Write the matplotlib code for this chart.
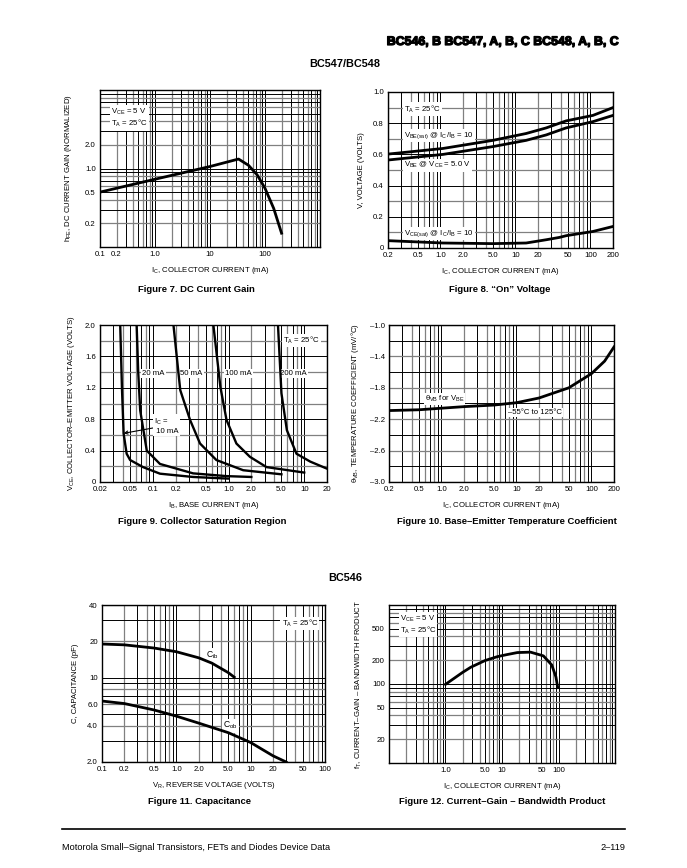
import numpy as np
import matplotlib.pyplot as plt
import matplotlib.patheffects as pe

plt.rcParams['font.family'] = ['Liberation Sans', 'DejaVu Sans']
plt.rcParams['mathtext.fontset'] = 'custom'
plt.rcParams['mathtext.rm'] = 'Liberation Sans'
plt.rcParams['mathtext.it'] = 'Liberation Sans'
plt.rcParams['mathtext.bf'] = 'Liberation Sans:bold'

W, H = 687, 868

# Figure 7 - DC current gain
ic7 = [0.1, 1.0, 10, 33, 50, 72, 100, 144, 200]
hfe7 = [0.5, 0.73, 1.06, 1.32, 1.1, 0.83, 0.56, 0.31, 0.15]

# Figure 8 - "On" voltage
ic8 = [0.2, 1.08, 5.0, 13.9, 25.8, 38.7, 47.6, 108, 200]
vbe_sat8 = [0.602, 0.638, 0.69, 0.734, 0.77, 0.80, 0.815, 0.85, 0.90]
vbe8 = [0.564, 0.60, 0.65, 0.69, 0.725, 0.755, 0.77, 0.81, 0.85]
vce_sat8 = [0.047, 0.032, 0.028, 0.032, 0.053, 0.068, 0.079, 0.106, 0.138]

# Figure 9 - collector saturation region
ib_10 = [0.037, 0.039, 0.041, 0.045, 0.05, 0.074, 0.124, 0.34, 1.0]
vce_10 = [2.0, 1.2, 0.62, 0.36, 0.28, 0.19, 0.106, 0.064, 0.043]
ib_20 = [0.061, 0.064, 0.068, 0.083, 0.124, 0.34, 0.94, 2.0]
vce_20 = [2.0, 1.4, 0.91, 0.40, 0.23, 0.11, 0.075, 0.064]
ib_50 = [0.187, 0.23, 0.31, 0.42, 0.69, 1.56, 5.0]
vce_50 = [2.0, 1.17, 0.79, 0.49, 0.28, 0.15, 0.098]
ib_100 = [0.63, 0.78, 0.94, 1.27, 1.92, 3.17, 10.0]
vce_100 = [2.0, 1.21, 0.79, 0.49, 0.32, 0.19, 0.12]
ib_200 = [4.5, 5.0, 5.9, 7.9, 12.0, 20.0]
vce_200 = [2.0, 1.13, 0.66, 0.36, 0.26, 0.17]

# Figure 10 - base-emitter temperature coefficient
ic10 = [0.2, 0.5, 1.0, 2.0, 5.0, 10, 20, 50, 100, 150, 200]
tc10 = [-2.09, -2.08, -2.06, -2.04, -2.02, -1.99, -1.93, -1.80, -1.62, -1.46, -1.28]

# Figure 11 - capacitance
vr_ib = [0.1, 0.2, 0.5, 1.0, 2.0, 3.0, 5.0, 6.0]
cib = [19.0, 18.7, 17.6, 16.4, 14.6, 13.2, 11.0, 10.1]
vr_ob = [0.1, 0.2, 0.5, 1.0, 2.0, 5.0, 10, 20, 30]
cob = [6.4, 6.1, 5.4, 4.8, 4.2, 3.5, 2.9, 2.25, 2.0]

# Figure 12 - current-gain bandwidth product
ic12 = [1.0, 2.0, 2.8, 5.0, 8.3, 12, 18.7, 32, 54, 76, 90, 97]
ft12 = [99, 140, 163, 198, 222, 235, 250, 253, 227, 174, 123, 90]

ic_ticks = [0.2, 0.5, 1.0, 2.0, 5.0, 10, 20, 50, 100, 200]
ic_labels = ['0.2', '0.5', '1.0', '2.0', '5.0', '10', '20', '50', '100', '200']

FS = 5.6
LW = 2.0
WB = dict(fc='white', ec='none', pad=0.8)


def rect(l, t, r, b):
    return [l / W, 1 - b / H, (r - l) / W, (b - t) / H]


def log_lines(lo, hi):
    out = []
    for n in range(int(np.floor(np.log10(lo))) - 1, int(np.ceil(np.log10(hi))) + 1):
        for k in range(1, 10):
            v = k * 10.0 ** n
            if lo * 0.999 <= v <= hi * 1.001:
                out.append((v, k == 1 or k in (3, 5, 7, 9)))
    return out


def lin_lines(lo, hi, step, major):
    out = []
    for v in np.arange(lo, hi + step / 2, step):
        out.append((v, abs(v / major - round(v / major)) < 1e-6))
    return out


def setup(ax, xlim, ylim, xlog, ylog, xt, xl, yt, yl, ystep=None, ymajor=None):
    if xlog:
        ax.set_xscale('log')
    if ylog:
        ax.set_yscale('log')
    ax.set_xlim(xlim)
    ax.set_ylim(ylim)
    xs = log_lines(*xlim) if xlog else lin_lines(xlim[0], xlim[1], 0.1, 0.2)
    ys = log_lines(*ylim) if ylog else lin_lines(ylim[0], ylim[1], ystep, ymajor)
    for v, dark in xs:
        ax.axvline(v, color='k' if dark else '0.5', lw=0.7 if dark else 0.9, zorder=0)
    for v, dark in ys:
        ax.axhline(v, color='k' if dark else '0.5', lw=0.7 if dark else 0.9, zorder=0)
    ax.set_xticks(xt)
    ax.set_xticklabels(xl)
    ax.set_yticks(yt)
    ax.set_yticklabels(yl)
    ax.minorticks_off()
    ax.tick_params(length=0, labelsize=FS, pad=3)
    for s in ax.spines.values():
        s.set_linewidth(1.0)
        s.set_zorder(3)


def note(ax, x, y, s, **kw):
    kw.setdefault('fontsize', FS)
    kw.setdefault('va', 'center')
    ax.text(x, y, s, bbox=WB, zorder=1, **kw)


fig = plt.figure(figsize=(W / 100, H / 100), dpi=100)

# ---- Figure 7
ax7 = fig.add_axes(rect(100, 90, 320, 247))
setup(ax7, (0.1, 1000), (0.1, 10), True, True,
      [0.1, 0.2, 1.0, 10, 100], ['0.1', '0.2', '1.0', '10', '100'],
      [0.2, 0.5, 1.0, 2.0], ['0.2', '0.5', '1.0', '2.0'])
ax7.plot(ic7, hfe7, color='k', lw=LW, zorder=2)
note(ax7, 0.16, 4.4, 'V$_{\\mathrm{CE}}$ = 5 V\nT$_{\\mathrm{A}}$ = 25°C', linespacing=1.2)
ax7.set_xlabel('I$_{\\mathrm{C}}$, COLLECTOR CURRENT (mA)', fontsize=FS, labelpad=5)
ax7.set_ylabel('h$_{\\mathrm{FE}}$, DC CURRENT GAIN (NORMALIZED)', fontsize=FS, labelpad=8)

# ---- Figure 8
ax8 = fig.add_axes(rect(388, 92, 613, 248))
setup(ax8, (0.2, 200), (0, 1.0), True, False, ic_ticks, ic_labels,
      [0, 0.2, 0.4, 0.6, 0.8, 1.0], ['0', '0.2', '0.4', '0.6', '0.8', '1.0'], 0.1, 0.2)
ax8.plot(ic8, vbe_sat8, color='k', lw=LW, zorder=2)
ax8.plot(ic8, vbe8, color='k', lw=LW, zorder=2)
ax8.plot(ic8, vce_sat8, color='k', lw=LW, zorder=2)
note(ax8, 0.33, 0.89, 'T$_{\\mathrm{A}}$ = 25°C')
note(ax8, 0.33, 0.72, 'V$_{\\mathrm{BE(sat)}}$ @ I$_{\\mathrm{C}}$/I$_{\\mathrm{B}}$ = 10')
note(ax8, 0.33, 0.53, 'V$_{\\mathrm{BE}}$ @ V$_{\\mathrm{CE}}$ = 5.0 V')
note(ax8, 0.33, 0.09, 'V$_{\\mathrm{CE(sat)}}$ @ I$_{\\mathrm{C}}$/I$_{\\mathrm{B}}$ = 10')
ax8.set_xlabel('I$_{\\mathrm{C}}$, COLLECTOR CURRENT (mA)', fontsize=FS, labelpad=5)
ax8.set_ylabel('V, VOLTAGE (VOLTS)', fontsize=FS, labelpad=6)

# ---- Figure 9
ax9 = fig.add_axes(rect(100, 325, 327, 482))
setup(ax9, (0.02, 20), (0, 2.0), True, False,
      [0.02, 0.05, 0.1, 0.2, 0.5, 1.0, 2.0, 5.0, 10, 20],
      ['0.02', '0.05', '0.1', '0.2', '0.5', '1.0', '2.0', '5.0', '10', '20'],
      [0, 0.4, 0.8, 1.2, 1.6, 2.0], ['0', '0.4', '0.8', '1.2', '1.6', '2.0'], 0.2, 0.4)
for xs, ys in [(ib_10, vce_10), (ib_20, vce_20), (ib_50, vce_50),
               (ib_100, vce_100), (ib_200, vce_200)]:
    ax9.plot(xs, ys, color='k', lw=1.7, zorder=2)
note(ax9, 0.072, 1.38, '20 mA')
note(ax9, 0.23, 1.38, '50 mA')
note(ax9, 0.9, 1.38, '100 mA')
note(ax9, 4.8, 1.38, '200 mA')
note(ax9, 5.3, 1.8, 'T$_{\\mathrm{A}}$ = 25°C')
ax9.annotate('I$_{\\mathrm{C}}$ =\n 10 mA', xy=(0.041, 0.62), xytext=(0.105, 0.72),
             fontsize=FS, va='center', ha='left', bbox=WB, zorder=1,
             arrowprops=dict(arrowstyle='->', lw=0.8, color='k', shrinkA=0, shrinkB=0))
ax9.set_xlabel('I$_{\\mathrm{B}}$, BASE CURRENT (mA)', fontsize=FS, labelpad=5)
ax9.set_ylabel('V$_{\\mathrm{CE}}$, COLLECTOR–EMITTER VOLTAGE (VOLTS)', fontsize=FS, labelpad=6)

# ---- Figure 10
ax10 = fig.add_axes(rect(389, 325, 614, 482))
setup(ax10, (0.2, 200), (-3.0, -1.0), True, False, ic_ticks, ic_labels,
      [-3.0, -2.6, -2.2, -1.8, -1.4, -1.0], ['–3.0', '–2.6', '–2.2', '–1.8', '–1.4', '–1.0'], 0.2, 0.4)
ax10.plot(ic10, tc10, color='k', lw=LW, zorder=2)
note(ax10, 0.6, -1.94, 'θ$_{\\mathrm{VB}}$ for V$_{\\mathrm{BE}}$')
note(ax10, 7.7, -2.11, '–55°C to 125°C')
ax10.set_xlabel('I$_{\\mathrm{C}}$, COLLECTOR CURRENT (mA)', fontsize=FS, labelpad=5)
ax10.set_ylabel('θ$_{\\mathrm{VB}}$, TEMPERATURE COEFFICIENT (mV/°C)', fontsize=FS, labelpad=6)

# ---- Figure 11
ax11 = fig.add_axes(rect(102, 605, 325, 762))
setup(ax11, (0.1, 100), (2, 40), True, True,
      [0.1, 0.2, 0.5, 1.0, 2.0, 5.0, 10, 20, 50, 100],
      ['0.1', '0.2', '0.5', '1.0', '2.0', '5.0', '10', '20', '50', '100'],
      [2, 4, 6, 10, 20, 40], ['2.0', '4.0', '6.0', '10', '20', '40'])
ax11.plot(vr_ib, cib, color='k', lw=LW, zorder=2)
ax11.plot(vr_ob, cob, color='k', lw=LW, zorder=2)
note(ax11, 26, 28, 'T$_{\\mathrm{A}}$ = 25°C')
note(ax11, 2.5, 15.4, 'C$_{\\mathrm{ib}}$', fontsize=FS + 0.6)
note(ax11, 4.3, 4.0, 'C$_{\\mathrm{ob}}$', fontsize=FS + 0.6)
ax11.set_xlabel('V$_{\\mathrm{R}}$, REVERSE VOLTAGE (VOLTS)', fontsize=FS, labelpad=5)
ax11.set_ylabel('C, CAPACITANCE (pF)', fontsize=FS, labelpad=6)

# ---- Figure 12
ax12 = fig.add_axes(rect(389, 605, 615, 763))
setup(ax12, (0.1, 1000), (10, 1000), True, True,
      [1.0, 5.0, 10, 50, 100], ['1.0', '5.0', '10', '50', '100'],
      [20, 50, 100, 200, 500], ['20', '50', '100', '200', '500'])
ax12.plot(ic12, ft12, color='k', lw=LW, zorder=2)
note(ax12, 0.155, 560, 'V$_{\\mathrm{CE}}$ = 5 V\nT$_{\\mathrm{A}}$ = 25°C', linespacing=1.2)
ax12.set_xlabel('I$_{\\mathrm{C}}$, COLLECTOR CURRENT (mA)', fontsize=FS, labelpad=5)
ax12.set_ylabel('f$_{\\mathrm{T}}$, CURRENT–GAIN – BANDWIDTH PRODUCT', fontsize=FS, labelpad=6)

# ---- page texts
def ftxt(x, y, s, **kw):
    return fig.text(x / W, 1 - y / H, s, **kw)

hdr = ftxt(620, 42, 'BC546, B BC547, A, B, C BC548, A, B, C', ha='right', va='center',
           fontsize=8.9, weight='bold')
hdr.set_path_effects([pe.withStroke(linewidth=0.9, foreground='k')])
ftxt(345, 64, 'BC547/BC548', ha='center', va='center', fontsize=7.8, weight='bold')
ftxt(345, 578, 'BC546', ha='center', va='center', fontsize=7.8, weight='bold')
cap = dict(ha='center', va='center', fontsize=6.8, weight='bold')
ftxt(196, 289, 'Figure 7. DC Current Gain', **cap)
ftxt(500, 289, 'Figure 8. “On” Voltage', **cap)
ftxt(202, 522, 'Figure 9. Collector Saturation Region', **cap)
ftxt(507, 522, 'Figure 10. Base–Emitter Temperature Coefficient', **cap)
ftxt(200, 802, 'Figure 11. Capacitance', **cap)
ftxt(502, 802, 'Figure 12. Current–Gain – Bandwidth Product', **cap)

fig.add_artist(plt.Line2D([62 / W, 625 / W], [1 - 829 / H, 1 - 829 / H], color='k', lw=1.2))
ftxt(62, 847, 'Motorola Small–Signal Transistors, FETs and Diodes Device Data',
     ha='left', va='center', fontsize=6.6)
ftxt(625, 847, '2–119', ha='right', va='center', fontsize=6.6)

fig.savefig('out.png', dpi=100)
